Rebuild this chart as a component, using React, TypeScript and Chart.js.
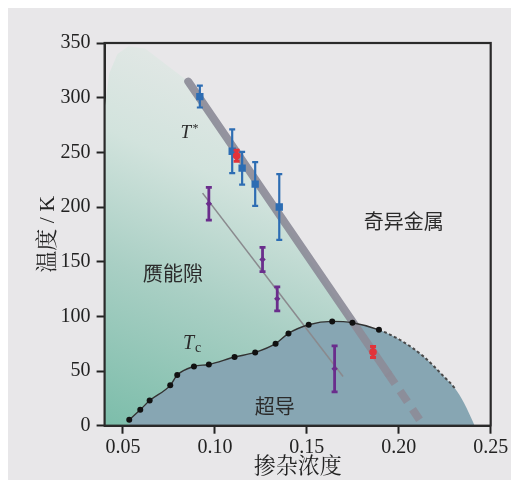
import React, { useEffect, useRef } from 'react';
import { Chart, registerables } from 'chart.js';

Chart.register(...registerables);

// ---- data (doping, temperature in K) ----
const xTicks = [0.05, 0.1, 0.15, 0.2, 0.25];
const yTicks = [0, 50, 100, 150, 200, 250, 300, 350];

const tcDoping = [0.0534, 0.0594, 0.0645, 0.0757, 0.0795, 0.0886, 0.0967, 0.1107, 0.1219, 0.133, 0.140, 0.151, 0.1638, 0.1748, 0.1892];
const tcTemp = [5.5, 14.6, 23, 36.9, 46.3, 54.2, 56, 62.8, 67, 75, 84.4, 92.3, 95.4, 94.2, 87.7];
const domeEdgeDoping = [0.2005, 0.2134, 0.2245, 0.2304, 0.2355, 0.2413];
const domeEdgeTemp = [78.6, 63.4, 45, 34.4, 20.7, 0];
const domeDashedUntil = 0.2304;

const tStarLineDoping = [0.0855, 0.194];
const tStarLineTemp = [314.7, 48.3];
const tStarDashDoping = [0.194, 0.2113];
const tStarDashTemp = [48.3, 5.5];

const pgLineDoping = [0.0933, 0.1697];
const pgLineTemp = [212.7, 45];

const blueDoping = [0.0918, 0.1094, 0.1148, 0.1219, 0.135];
const blueTemp = [301, 251, 235.5, 221, 200];
const blueErr = [10, 20, 15, 20, 30];

const redDoping = [0.1118, 0.186];
const redTemp = [246.8, 67.4];
const redErr = [5, 5];

const purpleDoping = [0.0967, 0.1259, 0.1339, 0.1651];
const purpleTemp = [203, 152, 116, 52];
const purpleErr = [15, 11, 11, 21];

const pseudogapEdgeDoping = [0.04, 0.04, 0.0425, 0.047, 0.053, 0.062, 0.0855, 0.2113, 0.2113];
const pseudogapEdgeTemp = [0, 290, 322, 340, 347, 345, 314.7, 5.5, 0];

const regionLabels = ['赝能隙', '奇异金属', '超导'];
const regionLabelDoping = [0.0772, 0.2027, 0.1326];
const regionLabelTemp = [139, 187, 17.4];

const symbolDoping = [0.0851, 0.0864]; // T*, Tc
const symbolTemp = [268, 75.4];

const FONT = '"Liberation Serif", "Noto Serif CJK SC", "Noto Sans CJK SC", serif';
const CJK = '"Noto Sans CJK SC", "Liberation Serif", serif';

const pts = (xs: number[], ys: number[]) => xs.map((x, i) => ({ x, y: ys[i] }));

const bgPlugin = {
  id: 'bg',
  beforeDraw(chart: any) {
    const ctx = chart.ctx;
    ctx.save();
    ctx.fillStyle = '#e8e7e9';
    ctx.fillRect(0, 0, chart.width, chart.height);
    ctx.restore();
  },
};

const regionPlugin = {
  id: 'pseudogapRegion',
  beforeDatasetsDraw(chart: any) {
    const { ctx, chartArea, scales } = chart;
    const xs = scales.x, ys = scales.y;
    ctx.save();
    ctx.beginPath();
    ctx.rect(chartArea.left, chartArea.top, chartArea.right - chartArea.left, chartArea.bottom - chartArea.top);
    ctx.clip();
    ctx.beginPath();
    pseudogapEdgeDoping.forEach((d, i) => {
      const px = xs.getPixelForValue(d);
      const py = ys.getPixelForValue(pseudogapEdgeTemp[i]);
      if (i === 0) ctx.moveTo(px, py); else ctx.lineTo(px, py);
    });
    ctx.closePath();
    const g = ctx.createLinearGradient(
      xs.getPixelForValue(0.04), ys.getPixelForValue(0),
      xs.getPixelForValue(0.125), ys.getPixelForValue(340)
    );
    g.addColorStop(0, '#7cbdaa');
    g.addColorStop(0.38, '#a9cfc4');
    g.addColorStop(0.68, '#d2e3dd');
    g.addColorStop(1, '#e7e9e8');
    ctx.fillStyle = g;
    ctx.fill();
    ctx.restore();
  },
};

const errorBarPlugin = {
  id: 'errorBars',
  beforeDatasetDraw(chart: any, args: any) {
    const ds: any = chart.data.datasets[args.index];
    if (!ds.errorBars) return;
    const { ctx, scales } = chart;
    ctx.save();
    ctx.strokeStyle = ds.borderColor;
    ctx.lineWidth = ds.errorBarWidth || 2;
    const cap = ds.errorCap || 3;
    ds.data.forEach((p: any, i: number) => {
      const e = ds.errorBars[i];
      const px = scales.x.getPixelForValue(p.x);
      const top = scales.y.getPixelForValue(p.y + e);
      const bot = scales.y.getPixelForValue(p.y - e);
      ctx.beginPath();
      ctx.moveTo(px, top); ctx.lineTo(px, bot);
      ctx.moveTo(px - cap, top); ctx.lineTo(px + cap, top);
      ctx.moveTo(px - cap, bot); ctx.lineTo(px + cap, bot);
      ctx.stroke();
    });
    ctx.restore();
  },
};

const overlayPlugin = {
  id: 'overlay',
  afterDatasetsDraw(chart: any) {
    const { ctx, chartArea, scales } = chart;
    ctx.save();
    ctx.fillStyle = '#2b2b2b';
    ctx.textAlign = 'center';
    ctx.textBaseline = 'middle';
    ctx.font = `20px ${CJK}`;
    regionLabels.forEach((t, i) => {
      ctx.fillText(t, scales.x.getPixelForValue(regionLabelDoping[i]), scales.y.getPixelForValue(regionLabelTemp[i]));
    });
    // T*
    let px = scales.x.getPixelForValue(symbolDoping[0]);
    let py = scales.y.getPixelForValue(symbolTemp[0]);
    ctx.textAlign = 'left';
    ctx.font = `italic 19px ${FONT}`;
    ctx.fillText('T', px - 7, py);
    ctx.font = `12px ${FONT}`;
    ctx.fillText('*', px + 5, py - 4);
    // Tc
    px = scales.x.getPixelForValue(symbolDoping[1]);
    py = scales.y.getPixelForValue(symbolTemp[1]);
    ctx.font = `italic 20px ${FONT}`;
    ctx.fillText('T', px - 7, py);
    ctx.font = `14px ${FONT}`;
    ctx.fillText('c', px + 5, py + 5);
    // frame
    ctx.strokeStyle = '#2a2a2a';
    ctx.lineWidth = 2.2;
    ctx.strokeRect(chartArea.left, chartArea.top, chartArea.right - chartArea.left, chartArea.bottom - chartArea.top);
    ctx.restore();
  },
};

export default function App() {
  const ref = useRef<HTMLCanvasElement>(null);
  useEffect(() => {
    if (!ref.current) return;
    const domeX = [...tcDoping, ...domeEdgeDoping];
    const domeY = [...tcTemp, ...domeEdgeTemp];
    const nTc = tcDoping.length;
    const chart = new Chart(ref.current, {
      type: 'scatter',
      data: {
        datasets: [
          {
            label: 'red',
            data: pts(redDoping, redTemp),
            borderColor: '#e2333a',
            backgroundColor: '#e2333a',
            pointStyle: 'circle',
            pointRadius: 3.8,
            pointBorderWidth: 0,
            showLine: false,
            order: 1,
            errorBars: redErr,
            errorBarWidth: 3,
            errorCap: 3,
          } as any,
          {
            label: 'blue',
            data: pts(blueDoping, blueTemp),
            borderColor: '#2d6db3',
            backgroundColor: '#2d6db3',
            pointStyle: 'rect',
            pointRadius: 5.2,
            pointBorderWidth: 0,
            showLine: false,
            order: 2,
            errorBars: blueErr,
            errorBarWidth: 2.2,
            errorCap: 3,
          } as any,
          {
            label: 'purple',
            data: pts(purpleDoping, purpleTemp),
            borderColor: '#6a2d8c',
            backgroundColor: '#6a2d8c',
            pointStyle: 'rectRot',
            pointRadius: 3.2,
            pointBorderWidth: 0,
            showLine: false,
            order: 3,
            errorBars: purpleErr,
            errorBarWidth: 2.8,
            errorCap: 3,
          } as any,
          {
            label: 'Tc',
            data: pts(domeX, domeY),
            showLine: true,
            fill: false,
            borderColor: '#333',
            borderWidth: 1.4,
            cubicInterpolationMode: 'monotone',
            pointRadius: (c: any) => (c.dataIndex < nTc ? 3 : 0),
            pointBackgroundColor: '#111',
            pointBorderWidth: 0,
            segment: {
              borderDash: (c: any) => (c.p0DataIndex >= nTc - 1 ? [3, 2.5] : undefined),
              borderWidth: (c: any) => (c.p0DataIndex >= nTc - 1 ? 2 : 1.4),
              borderColor: (c: any) => (domeX[c.p0DataIndex] >= domeDashedUntil ? 'rgba(0,0,0,0)' : c.p0DataIndex >= nTc - 1 ? '#4a4a4a' : '#333'),
            },
            order: 5,
          } as any,
          {
            label: 'T* dashed',
            data: pts(tStarDashDoping, tStarDashTemp),
            showLine: true,
            borderColor: 'rgba(140,140,152,0.92)',
            borderWidth: 8,
            borderDash: [13, 9],
            borderCapStyle: 'butt',
            pointRadius: 0,
            order: 6,
          } as any,
          {
            label: 'T*',
            data: pts(tStarLineDoping, tStarLineTemp),
            showLine: true,
            borderColor: 'rgba(140,140,152,0.92)',
            borderWidth: 8,
            borderCapStyle: 'round',
            pointRadius: 0,
            order: 6,
          } as any,
          {
            label: 'pg line',
            data: pts(pgLineDoping, pgLineTemp),
            showLine: true,
            borderColor: '#8a8a8e',
            borderWidth: 1.6,
            pointRadius: 0,
            order: 7,
          } as any,
          {
            label: 'dome',
            data: pts(domeX, domeY),
            showLine: true,
            fill: 'origin',
            backgroundColor: '#87a6b3',
            borderColor: 'rgba(0,0,0,0)',
            borderWidth: 0,
            cubicInterpolationMode: 'monotone',
            pointRadius: 0,
            order: 9,
          } as any,
        ],
      },
      options: {
        animation: false,
        responsive: false,
        devicePixelRatio: 1,
        events: [],
        layout: { padding: { top: 35, right: 20.3, left: 0, bottom: 0 } },
        plugins: { legend: { display: false }, tooltip: { enabled: false } },
        scales: {
          x: {
            type: 'linear',
            min: 0.04,
            max: 0.25,
            afterBuildTicks: (s: any) => { s.ticks = xTicks.map((v) => ({ value: v })); },
            afterFit: (s: any) => { s.height = 54.3; },
            ticks: {
              font: { family: FONT, size: 20 },
              color: '#222',
              padding: 2,
              maxRotation: 0,
              callback: (v: any) => Number(v).toFixed(2),
            },
            grid: { drawOnChartArea: false, drawTicks: true, tickLength: 8, tickColor: '#222', tickWidth: 2 },
            border: { display: true, color: '#2a2a2a', width: 2 },
            title: { display: true, text: '掺杂浓度', font: { family: FONT, size: 22 }, color: '#222', padding: { top: 0, bottom: 0 } },
          },
          y: {
            type: 'linear',
            min: 0,
            max: 350,
            afterBuildTicks: (s: any) => { s.ticks = yTicks.map((v) => ({ value: v })); },
            afterFit: (s: any) => { s.width = 96.6; },
            ticks: {
              font: { family: FONT, size: 20 },
              color: '#222',
              padding: 6,
            },
            grid: { drawOnChartArea: false, drawTicks: true, tickLength: 8, tickColor: '#222', tickWidth: 2 },
            border: { display: true, color: '#2a2a2a', width: 2 },
            title: { display: true, text: '温度 / K', font: { family: FONT, size: 22 }, color: '#222', padding: { top: 27, bottom: 0 } },
          },
        },
      },
      plugins: [bgPlugin, regionPlugin, errorBarPlugin, overlayPlugin],
    } as any);
    return () => chart.destroy();
  }, []);
  return (
    <div style={{ position: 'absolute', left: 8, top: 8, width: 503, height: 472 }}>
      <canvas ref={ref} width={503} height={472} style={{ display: 'block' }} />
    </div>
  );
}
